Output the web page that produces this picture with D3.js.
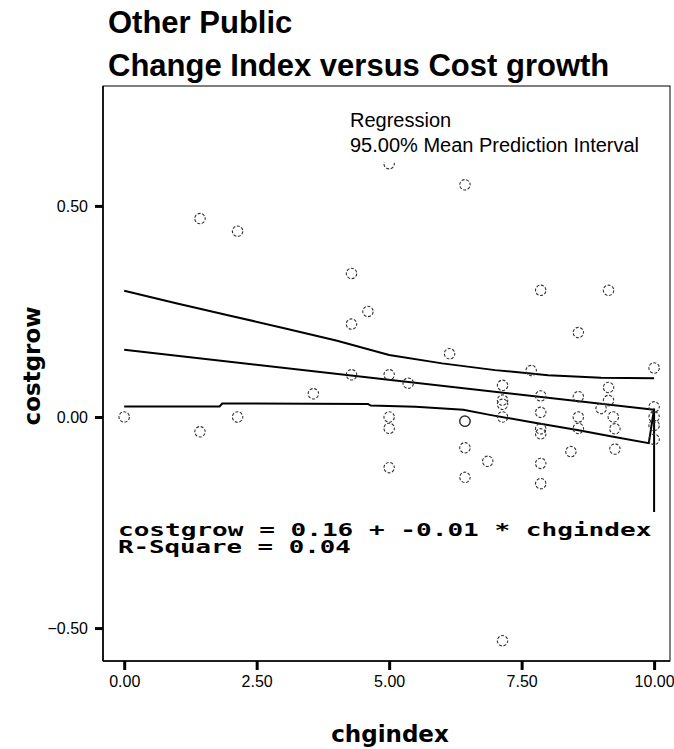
<!DOCTYPE html>
<html><head><meta charset="utf-8">
<script src="https://cdn.jsdelivr.net/npm/d3@7"></script>
<style>body{margin:0;background:#fff}svg{display:block}</style>
</head><body><svg id="c" width="674" height="749"></svg>
<script>
// ---------- data ----------
const titleLines = ["Other Public", "Change Index versus Cost growth"];
const legendLines = ["Regression", "95.00% Mean Prediction Interval"];
const equationLines = ["costgrow = 0.16 + -0.01 * chgindex", "R-Square = 0.04"];
const xLabel = "chgindex";
const yLabel = "costgrow";
const xTicks = [0, 2.5, 5, 7.5, 10];
const yTicks = [-0.5, 0, 0.5];

const pointX = [0, 1.43, 1.43, 2.14, 2.14, 3.57, 4.29, 4.29, 4.29, 4.6,
  5.0, 5.0, 5.0, 5.0, 5.0, 5.36, 6.14, 6.43, 6.43, 6.43, 6.43, 6.43, 6.43,
  6.86, 7.14, 7.14, 7.14, 7.14, 7.14, 7.68, 7.86, 7.86, 7.86, 7.86, 7.86,
  7.86, 7.86, 8.43, 8.57, 8.57, 8.57, 8.57, 9.0, 9.14, 9.14, 9.14, 9.23,
  9.26, 9.26, 10, 10, 10, 10, 10];
const pointY = [0.0, 0.47, -0.035, 0.44, 0.0, 0.055, 0.34, 0.22, 0.10, 0.25,
  0.60, 0.10, 0.0, -0.027, -0.12, 0.08, 0.15, 0.55, -0.01, -0.01, -0.01, -0.073, -0.143,
  -0.105, 0.075, 0.04, 0.03, 0.0, -0.53, 0.11, 0.30, 0.05, 0.011, -0.028, -0.04,
  -0.11, -0.158, -0.082, 0.20, 0.048, 0.0, -0.027, 0.02, 0.30, 0.07, 0.039, 0.0,
  -0.028, -0.076, 0.116, 0.024, 0.0, -0.02, -0.053];

const fitX = [0, 10];
const fitY = [0.159, 0.017];

const upperX = [0, 1, 2, 3, 4, 5, 6, 7, 8, 9, 10];
const upperY = [0.299, 0.269, 0.240, 0.211, 0.181, 0.147, 0.127, 0.111, 0.099, 0.093, 0.092];

const lowerX = [0, 1.8, 1.85, 4.6, 4.65, 5.5, 6.4, 6.9, 7.8, 8.55, 9.23, 9.9, 10, 10];
const lowerY = [0.025, 0.025, 0.032, 0.031, 0.027, 0.024, 0.017, 0.005, -0.015, -0.031, -0.047, -0.062, 0.02, -0.225];

// ---------- drawing ----------
const svg = d3.select("#c");
const L = 103, R = 670, T = 86, B = 661;
const x = d3.scaleLinear().domain([-0.4, 10.3]).range([L, R]);
const y = d3.scaleLinear().domain([-0.578, 0.784]).range([B, T]);
const sans = "'Liberation Sans', Arial, sans-serif";

svg.append("rect").attr("width", 674).attr("height", 749).attr("fill", "#fff");

// title
svg.selectAll("text.title").data(titleLines).join("text")
  .attr("class", "title")
  .attr("x", 108).attr("y", (d, i) => 33 + i * 43)
  .attr("font-family", sans).attr("font-weight", "bold").attr("font-size", 31)
  .attr("fill", "#000").text(d => d);

// frame
svg.append("rect").attr("x", L).attr("y", T).attr("width", R - L).attr("height", B - T)
  .attr("fill", "none").attr("stroke", "#000").attr("stroke-width", 1);
svg.append("line").attr("x1", L).attr("x2", L).attr("y1", T).attr("y2", B)
  .attr("stroke", "#000").attr("stroke-width", 1.6);
svg.append("line").attr("x1", L).attr("x2", R).attr("y1", B).attr("y2", B)
  .attr("stroke", "#000").attr("stroke-width", 1.6);

// axes
const fmt = d3.format(".2f");
const gx = svg.append("g").attr("transform", `translate(0,${B})`)
  .call(d3.axisBottom(x).tickValues(xTicks).tickSize(9).tickPadding(6).tickFormat(fmt));
const gy = svg.append("g").attr("transform", `translate(${L},0)`)
  .call(d3.axisLeft(y).tickValues(yTicks).tickSize(8).tickPadding(7).tickFormat(fmt));
[gx, gy].forEach(g => {
  g.select(".domain").remove();
  g.selectAll(".tick line").attr("stroke", "#000").attr("stroke-width", 3);
  g.selectAll(".tick text").attr("font-family", sans).attr("font-size", 16).attr("fill", "#000");
});

// axis titles
svg.append("text").attr("x", 390).attr("y", 742).attr("text-anchor", "middle")
  .attr("font-family", "'DejaVu Sans', Verdana, sans-serif").attr("font-weight", "bold")
  .attr("font-size", 23).attr("fill", "#000").text(xLabel);
svg.append("text").attr("transform", "translate(40,366) rotate(-90)").attr("text-anchor", "middle")
  .attr("font-family", "'DejaVu Sans', Verdana, sans-serif").attr("font-weight", "bold")
  .attr("font-size", 23).attr("fill", "#000").text(yLabel);

// lines
const line = d3.line().x(d => x(d[0])).y(d => y(d[1]));
const series = [d3.zip(fitX, fitY), d3.zip(upperX, upperY), d3.zip(lowerX, lowerY)];
svg.selectAll("path.fit").data(series).join("path")
  .attr("class", "fit").attr("d", line)
  .attr("fill", "none").attr("stroke", "#000").attr("stroke-width", 2);

// points
svg.selectAll("circle.pt").data(d3.zip(pointX, pointY)).join("circle")
  .attr("class", "pt")
  .attr("cx", d => x(d[0])).attr("cy", d => y(d[1])).attr("r", 5.2)
  .attr("fill", "none").attr("stroke", "#333").attr("stroke-width", 1.1)
  .attr("stroke-dasharray", "3,1.6").attr("stroke-dashoffset", (d, i) => i * 1.5);

// legend (with its white box that hides what is behind it)
svg.append("rect").attr("x", 345).attr("y", 104).attr("width", 318).attr("height", 58)
  .attr("fill", "#fff");
svg.selectAll("text.legend").data(legendLines).join("text")
  .attr("class", "legend")
  .attr("x", 350).attr("y", (d, i) => 127 + i * 25)
  .attr("font-family", sans).attr("font-size", 20).attr("fill", "#000").text(d => d);

// equation
const eqFs = 18, pitch = 538 / equationLines[0].length;
svg.selectAll("text.eq").data(equationLines).join("text")
  .attr("class", "eq")
  .attr("x", 118).attr("y", (d, i) => 536 + i * 17)
  .attr("font-family", "'DejaVu Sans Mono', monospace").attr("font-weight", "bold")
  .attr("font-size", eqFs)
  .attr("textLength", d => pitch * d.length - (pitch - eqFs * 0.62))
  .attr("lengthAdjust", "spacingAndGlyphs")
  .attr("fill", "#000").text(d => d);
</script></body></html>
